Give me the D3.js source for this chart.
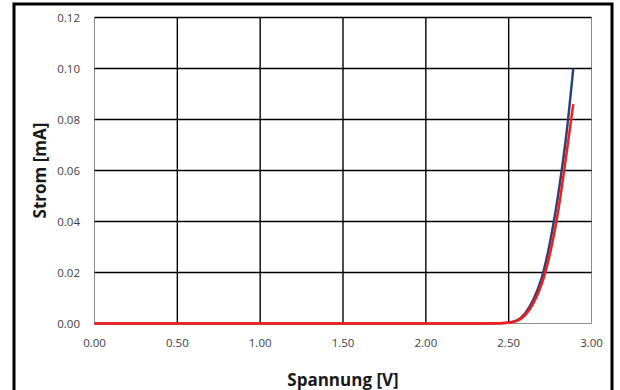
<!DOCTYPE html>
<html>
<head>
<meta charset="utf-8">
<script src="https://cdn.jsdelivr.net/npm/d3@7"></script>
<style>
  body { margin: 0; background: #fff; }
  svg { display: block; font-family: "Open Sans", Lato, sans-serif; }
</style>
</head>
<body>
<script>
// data
var voltage = [0, 0.5, 1.0, 1.5, 2.0, 2.3, 2.45, 2.5, 2.55, 2.6, 2.65, 2.7, 2.75, 2.8, 2.85, 2.89];
var blueCurrent = [0, 0, 0, 0, 0, 0, 0.0001, 0.0004, 0.0012, 0.0040, 0.0095, 0.0180, 0.0320, 0.0510, 0.0750, 0.1000];
var redCurrent  = [0, 0, 0, 0, 0, 0, 0.0001, 0.0003, 0.0010, 0.0033, 0.0080, 0.0155, 0.0275, 0.0445, 0.0670, 0.0860];
var xTicks = [0, 0.5, 1.0, 1.5, 2.0, 2.5, 3.0];
var yTicks = [0, 0.02, 0.04, 0.06, 0.08, 0.10, 0.12];

var w = 620, h = 390;
var pLeft = 94.5, pRight = 591.5, pTop = 17.5, pBottom = 323.5;

var svg = d3.select("body").append("svg")
            .attr("width", w)
            .attr("height", h);

// outer frame
svg.append("rect")
   .attr("x", 14).attr("y", 4)
   .attr("width", 598).attr("height", 400)
   .attr("fill", "none")
   .attr("stroke", "#000")
   .attr("stroke-width", 3);

var x = d3.scaleLinear().domain([0, 3]).range([pLeft, pRight]);
var y = d3.scaleLinear().domain([0, 0.12]).range([pBottom, pTop]);

// grid
svg.selectAll("line.vgrid")
   .data(xTicks)
   .enter().append("line")
   .attr("x1", function(d){ return x(d); })
   .attr("x2", function(d){ return x(d); })
   .attr("y1", pTop).attr("y2", pBottom)
   .attr("stroke", function(d){ return (d === 0 || d === 3) ? "#8c8c8c" : "#000"; })
   .attr("stroke-width", function(d){ return (d === 0 || d === 3) ? 1 : 1.4; });

svg.selectAll("line.hgrid")
   .data(yTicks)
   .enter().append("line")
   .attr("x1", pLeft).attr("x2", pRight)
   .attr("y1", function(d){ return y(d); })
   .attr("y2", function(d){ return y(d); })
   .attr("stroke", function(d){ return d === 0 ? "#8c8c8c" : "#000"; })
   .attr("stroke-width", function(d){ return d === 0 ? 1 : 1.4; });

// tick labels
svg.selectAll("text.ylab")
   .data(yTicks)
   .enter().append("text")
   .attr("x", 80)
   .attr("y", function(d){ return y(d) + 4; })
   .attr("text-anchor", "end")
   .attr("font-size", 11.5)
   .attr("fill", "#404040")
   .text(function(d){ return d3.format(".2f")(d); });

svg.selectAll("text.xlab")
   .data(xTicks)
   .enter().append("text")
   .attr("x", function(d){ return x(d); })
   .attr("y", 347)
   .attr("text-anchor", "middle")
   .attr("font-size", 11.5)
   .attr("fill", "#404040")
   .text(function(d){ return d3.format(".2f")(d); });

// axis titles
svg.append("text")
   .attr("x", x(1.5))
   .attr("y", 386)
   .attr("text-anchor", "middle")
   .attr("font-size", 17)
   .attr("font-weight", "bold")
   .attr("fill", "#1a1a1a")
   .text("Spannung [V]");

svg.append("text")
   .attr("transform", "translate(46," + y(0.06) + ") rotate(-90)")
   .attr("text-anchor", "middle")
   .attr("font-size", 17)
   .attr("font-weight", "bold")
   .attr("fill", "#1a1a1a")
   .text("Strom [mA]");

// curves
var line = d3.line()
             .x(function(d){ return x(d[0]); })
             .y(function(d){ return y(d[1]); })
             .curve(d3.curveMonotoneX);

svg.append("path")
   .attr("d", line(d3.zip(voltage, blueCurrent)))
   .attr("fill", "none")
   .attr("stroke", "#24477a")
   .attr("stroke-width", 2.5);

svg.append("path")
   .attr("d", line(d3.zip(voltage, redCurrent)))
   .attr("fill", "none")
   .attr("stroke", "#ff1a1a")
   .attr("stroke-width", 2.5);
</script>
</body>
</html>
